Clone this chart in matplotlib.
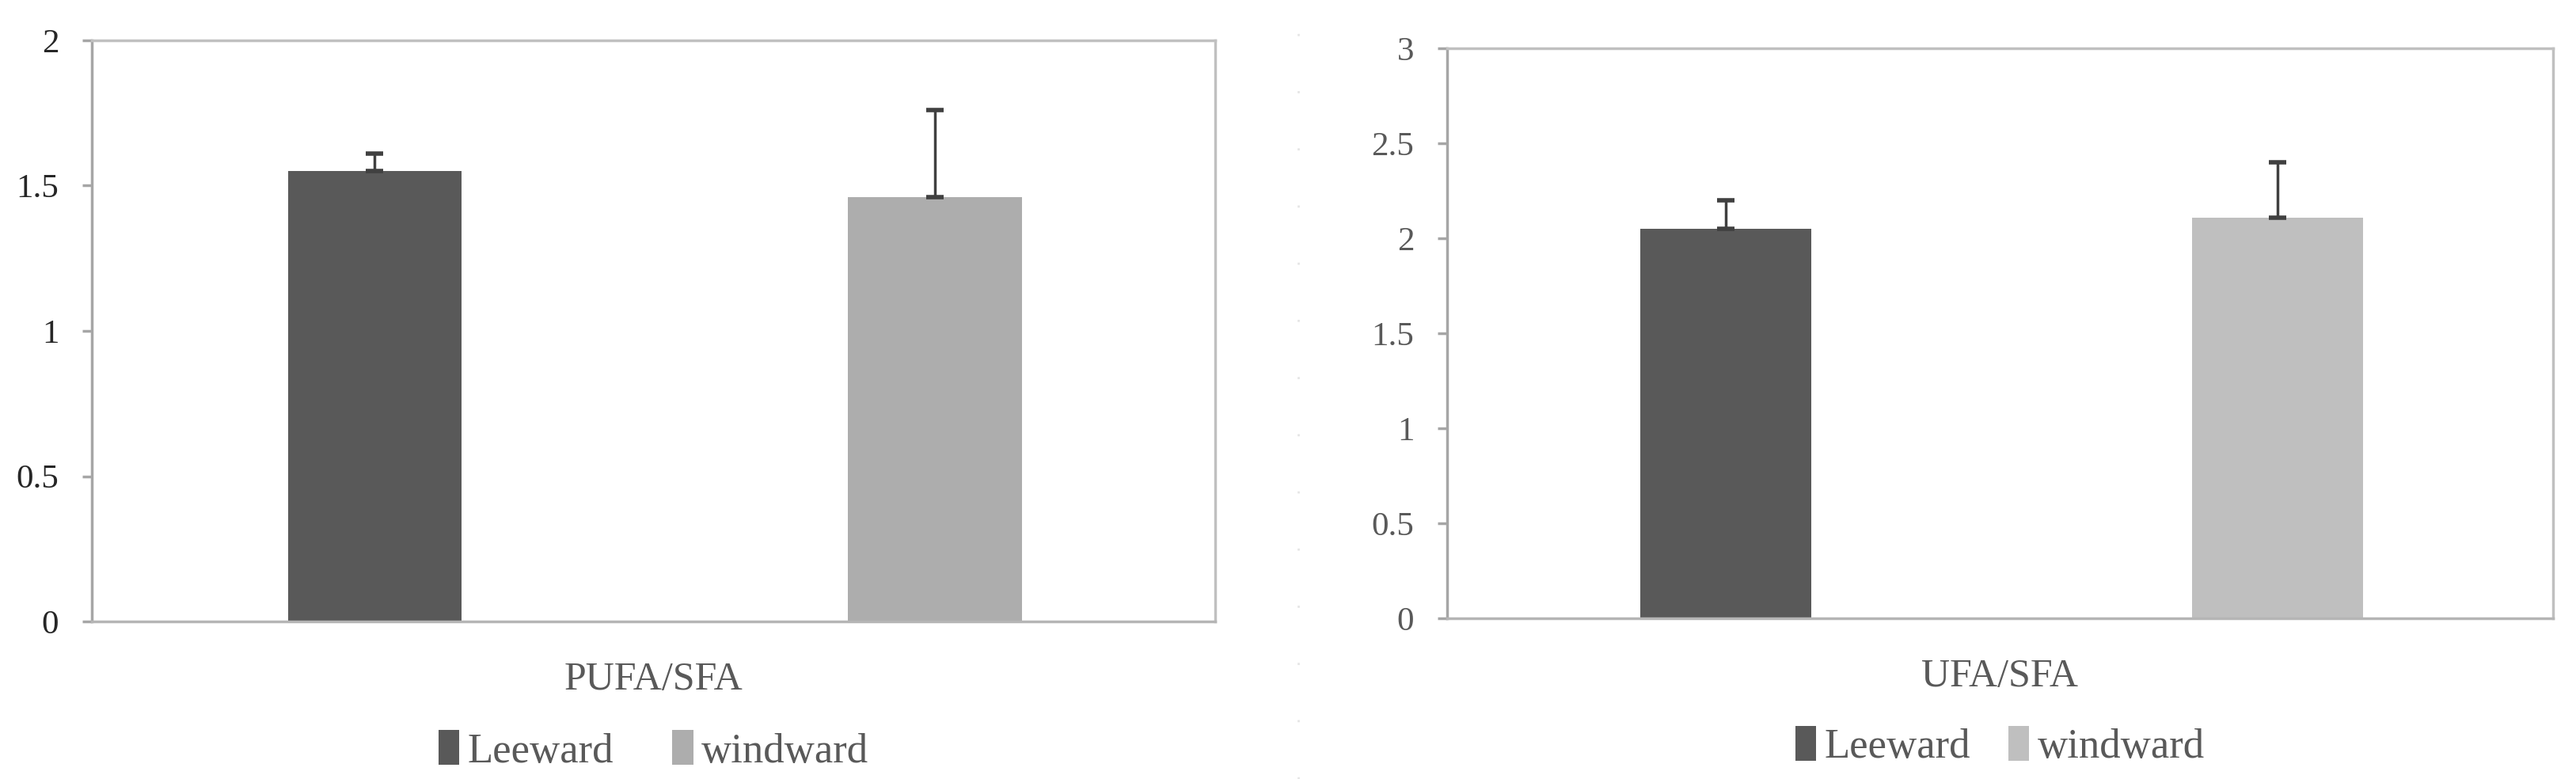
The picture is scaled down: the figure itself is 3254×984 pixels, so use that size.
import numpy as np
import matplotlib
matplotlib.use("Agg")
import matplotlib.pyplot as plt
from matplotlib.lines import Line2D

groups = ["Leeward", "windward"]
pufa_sfa = [1.55, 1.46]
pufa_sfa_err = [0.06, 0.30]
ufa_sfa = [2.05, 2.11]
ufa_sfa_err = [0.15, 0.29]

plt.rcParams['font.family'] = ['Liberation Serif', 'DejaVu Serif']

fig = plt.figure(figsize=(32.54, 9.84), dpi=100)

# left panel
ax1 = fig.add_axes([116/3254, 1-785/984, (1535-116)/3254, (785-51)/984])
# right panel
ax2 = fig.add_axes([1828/3254, 1-781/984, (3225-1828)/3254, (781-61)/984])

panels = [
    (ax1, pufa_sfa, pufa_sfa_err, ["#595959", "#adadad"], "PUFA/SFA", 2, "#262626", -0.222, 1.4),
    (ax2, ufa_sfa, ufa_sfa_err, ["#595959", "#bfbfbf"], "UFA/SFA", 3, "#595959", -0.224, 0.9),
]

for ax, vals, errs, cols, lab, ymax, tcol, legy, colsp in panels:
    x = np.arange(len(groups))
    for i in range(len(groups)):
        ax.bar(x[i], vals[i], width=0.31, color=cols[i], label=groups[i], zorder=2)
        ax.errorbar(x[i], vals[i], yerr=[[0], [errs[i]]], fmt='none',
                    ecolor="#404040", elinewidth=2.5, capsize=8, capthick=4, zorder=3)
    ax.set_xlim(-0.505, 1.5)
    ax.set_ylim(0, ymax)
    ax.set_yticks(np.arange(0, ymax + 0.01, 0.5))
    ax.set_yticklabels(["%g" % t for t in np.arange(0, ymax + 0.01, 0.5)])
    ax.set_xticks([])
    for s in ax.spines.values():
        s.set_color("#c0c0c0")
        s.set_linewidth(2.5)
    ax.spines['left'].set_color("#a6a6a6")
    ax.spines['bottom'].set_color("#b5b5b5")
    ax.tick_params(axis='y', length=9, width=2.5, color="#a6a6a6",
                   labelsize=31, labelcolor=tcol, pad=21)
    ax.set_xlabel(lab, fontsize=36, color="#595959", labelpad=36)
    ax.legend(loc='center', bbox_to_anchor=(0.5, legy), ncol=2, frameon=False,
              fontsize=38, labelcolor="#595959", handlelength=0.5, handleheight=0.9,
              handletextpad=0.2, columnspacing=colsp, borderpad=0)

# faint dotted separator between the two charts
fig.add_artist(Line2D([1640/3254, 1640/3254], [0, 1], transform=fig.transFigure,
                      color="#e6e6e6", linewidth=2, linestyle=(0, (1, 25))))

fig.savefig("out.png", dpi=100, facecolor="white")
